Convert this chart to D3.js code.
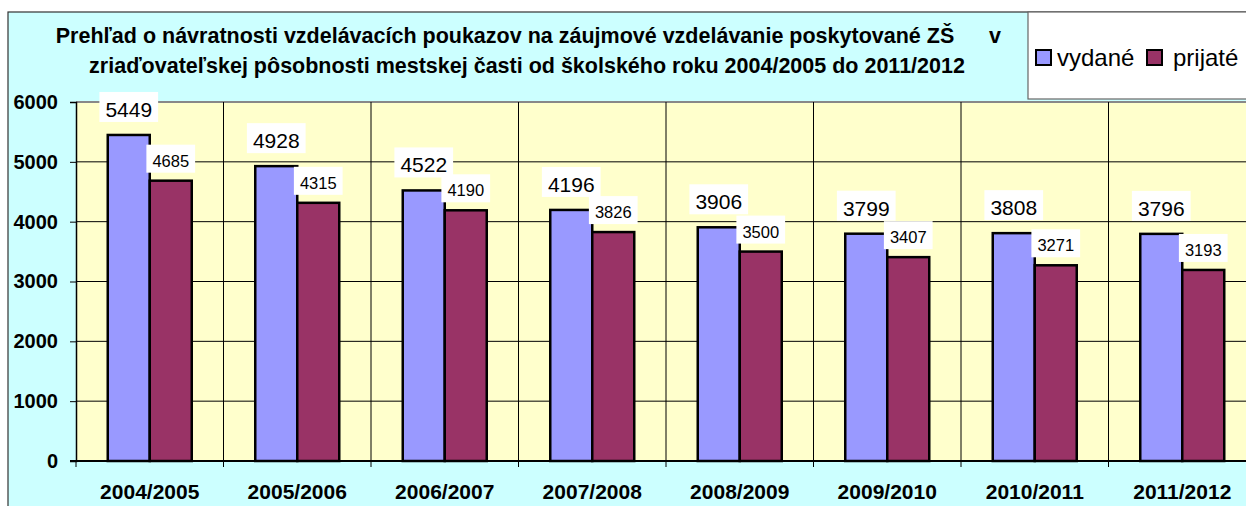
<!DOCTYPE html>
<html><head><meta charset="utf-8">
<script src="https://cdn.jsdelivr.net/npm/d3@7"></script>
<style>
html,body{margin:0;padding:0;background:#fff;overflow:hidden}
svg{display:block;font-family:"Liberation Sans",Arial,sans-serif}
</style></head>
<body>
<svg id="c" width="1246" height="506"></svg>
<script>
const categories = ["2004/2005","2005/2006","2006/2007","2007/2008","2008/2009","2009/2010","2010/2011","2011/2012"];
const seriesNames = ["vydané","prijaté"];
const vydane = [5449,4928,4522,4196,3906,3799,3808,3796];
const prijate = [4685,4315,4190,3826,3500,3407,3271,3193];
const yTicks = [0,1000,2000,3000,4000,5000,6000];
const titleLine1 = "Prehľad o návratnosti vzdelávacích poukazov na záujmové vzdelávanie poskytované ZŠ";
const titleLine1b = "v";
const titleLine2 = "zriaďovateľskej pôsobnosti mestskej časti od školského roku 2004/2005 do 2011/2012";

const colors = ["#9999FF","#993366"];
const svg = d3.select("#c");

// outer chart area
svg.append("rect").attr("x",8).attr("y",12).attr("width",1300).attr("height",600)
  .attr("fill","#CCFFFF").attr("stroke","#333").attr("stroke-width",1.2);

const L = 76, T = 102, B = 461, BW = 147.5;
const x = d3.scaleBand().domain(categories).range([L, L + BW*categories.length]).padding(0);
const y = d3.scaleLinear().domain([0,6000]).range([B, T]);
const sub = d3.scaleBand().domain(seriesNames).range([0,84]).padding(0);
const off = (x.bandwidth() - 84) / 2;

// plot area
svg.append("rect").attr("x",L).attr("y",T).attr("width",x.range()[1]-L).attr("height",B-T)
  .attr("fill","#FFFFCC");

// horizontal gridlines
svg.append("g").selectAll("line").data(yTicks.filter(d=>d>0)).join("line")
  .attr("x1",L).attr("x2",x.range()[1]).attr("y1",d=>y(d)).attr("y2",d=>y(d))
  .attr("stroke",d=>d===6000?"#888":"#000").attr("stroke-width",d=>d===6000?2:1);

// vertical gridlines at category boundaries
const bounds = categories.map(c=>x(c)).slice(1);
svg.append("g").selectAll("line").data(bounds).join("line")
  .attr("x1",d=>d).attr("x2",d=>d).attr("y1",T).attr("y2",B)
  .attr("stroke","#000").attr("stroke-width",1);

// y axis
const yAxis = d3.axisLeft(y).tickValues(yTicks).tickSize(6).tickPadding(12).tickFormat(d3.format("d"));
const ya = svg.append("g").attr("transform",`translate(${L},0)`).call(yAxis);
ya.select(".domain").attr("stroke","#000").attr("stroke-width",1.5);
ya.selectAll(".tick line").attr("stroke","#000");
ya.selectAll(".tick text").attr("font-size",20).attr("font-weight","bold").attr("fill","#000")
  .attr("font-family","'Liberation Sans',Arial,sans-serif");

// x axis
const xAxis = d3.axisBottom(x).tickSize(0).tickPadding(23);
const xa = svg.append("g").attr("transform",`translate(0,${B})`).call(xAxis);
xa.select(".domain").remove();
xa.selectAll(".tick text").attr("font-size",21).attr("font-weight","bold").attr("fill","#000")
  .attr("font-family","'Liberation Sans',Arial,sans-serif");
svg.append("line").attr("x1",L-6).attr("x2",x.range()[1]).attr("y1",B).attr("y2",B)
  .attr("stroke","#000").attr("stroke-width",2);
svg.append("g").selectAll("line").data(categories.map(c=>x(c)).concat([x.range()[1]])).join("line")
  .attr("x1",d=>d).attr("x2",d=>d).attr("y1",B).attr("y2",B+6).attr("stroke","#000");

// bars
const series = [vydane, prijate];
series.forEach((vals, si) => {
  svg.append("g").selectAll("rect").data(vals).join("rect")
    .attr("x",(d,i)=>x(categories[i]) + off + sub(seriesNames[si]))
    .attr("width",sub.bandwidth())
    .attr("y",d=>y(d)).attr("height",d=>B-y(d))
    .attr("fill",colors[si]).attr("stroke","#000").attr("stroke-width",2.5);
});

// labels
function addLabel(g, cx, baseline, txt, size, padTop, padBot) {
  const t = g.append("text").attr("x",cx).attr("y",baseline).attr("text-anchor","middle")
    .attr("font-size",size).attr("fill","#000").text(txt);
  const w = t.node().getComputedTextLength();
  g.insert("rect","text").attr("x",cx - w/2 - 6).attr("width",w+12)
    .attr("y",baseline - padTop).attr("height",padTop+padBot).attr("fill","#fff");
}
vydane.forEach((v,i)=>{
  const g = svg.append("g");
  const cx = x(categories[i]) + off + sub("vydané") + sub.bandwidth()/2;
  addLabel(g, cx, y(v)-18, String(v), 21, 25, 5);
});
prijate.forEach((v,i)=>{
  const g = svg.append("g");
  const cx = x(categories[i]) + off + sub("prijaté") + sub.bandwidth()/2;
  addLabel(g, cx, y(v)-14, String(v), 16.5, 22, 6);
});

// title
svg.append("text").attr("x",505).attr("y",43).attr("text-anchor","middle")
  .attr("font-size",21.5).attr("font-weight","bold").attr("fill","#000").text(titleLine1);
svg.append("text").attr("x",995).attr("y",43).attr("text-anchor","middle")
  .attr("font-size",21.5).attr("font-weight","bold").attr("fill","#000").text(titleLine1b);
svg.append("text").attr("x",527).attr("y",73).attr("text-anchor","middle")
  .attr("font-size",21.5).attr("font-weight","bold").attr("fill","#000").text(titleLine2);

// legend
const lg = svg.append("g");
lg.append("rect").attr("x",1028).attr("y",12).attr("width",260).attr("height",87)
  .attr("fill","#fff").attr("stroke","#666").attr("stroke-width",1.2);
const legX = [1036, 1147];
seriesNames.forEach((n,i)=>{
  lg.append("rect").attr("x",legX[i]).attr("y",50).attr("width",15).attr("height",15)
    .attr("fill",colors[i]).attr("stroke","#000").attr("stroke-width",2);
  lg.append("text").attr("x",legX[i] + (i===0?21:26)).attr("y",66).attr("font-size",24)
    .attr("fill","#000").text(n);
});
</script>
</body></html>
